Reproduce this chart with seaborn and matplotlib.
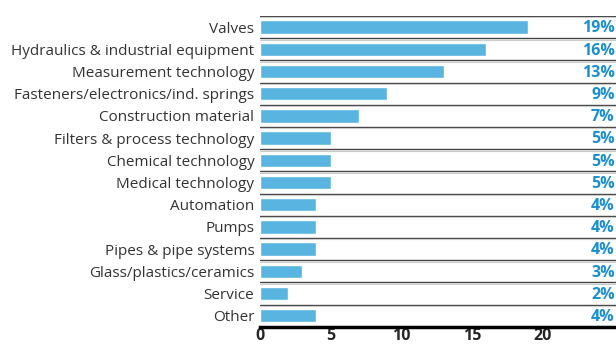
import matplotlib
matplotlib.use("Agg")
import matplotlib.pyplot as plt
import pandas as pd
import seaborn as sns

categories = ["Valves", "Hydraulics & industrial equipment", "Measurement technology",
              "Fasteners/electronics/ind. springs", "Construction material",
              "Filters & process technology", "Chemical technology", "Medical technology",
              "Automation", "Pumps", "Pipes & pipe systems", "Glass/plastics/ceramics",
              "Service", "Other"]
shares = [19, 16, 13, 9, 7, 5, 5, 5, 4, 4, 4, 3, 2, 4]
ticks = [0, 5, 10, 15, 20]

bar_blue = "#5ab4e0"
text_blue = "#1a8fd0"

df = pd.DataFrame({"category": categories, "share": shares})

sns.set_style("white")
plt.rcParams["font.family"] = ["Open Sans", "DejaVu Sans"]

fig, ax = plt.subplots(figsize=(6.16, 3.47), dpi=100)
fig.subplots_adjust(left=0.422, right=1.0, top=0.954, bottom=0.058)

sns.barplot(data=df, y="category", x="share", orient="h", color=bar_blue,
            width=0.6, saturation=1, ax=ax)

ax.set_xlim(0, 25.2)
ax.set_ylim(len(categories) - 0.5, -0.5)

# row separators
for i in range(len(categories)):
    ax.axhline(i - 0.5, color="#444444", lw=1.0, zorder=3)
    ax.axhline(i - 0.5 + 0.06, color="#cccccc", lw=0.8, zorder=3)

# percentage labels at the right edge
for i, v in enumerate(shares):
    ax.text(25.1, i + 0.06, f"{v}%", ha="right", va="center", fontsize=11.5,
            fontweight="bold", color=text_blue)

for s in ["top", "right", "left"]:
    ax.spines[s].set_visible(False)
ax.spines["bottom"].set_color("black")
ax.spines["bottom"].set_linewidth(2.5)

ax.set_xticks(ticks)
ax.set_xticklabels([str(t) for t in ticks], fontsize=11.5, fontweight="bold")
ax.tick_params(axis="both", length=0)
ax.tick_params(axis="y", labelsize=11, labelcolor="#333333", pad=4)
ax.tick_params(axis="x", pad=1)
ax.set_xlabel("")
ax.set_ylabel("")

fig.savefig("out.png", dpi=100)
